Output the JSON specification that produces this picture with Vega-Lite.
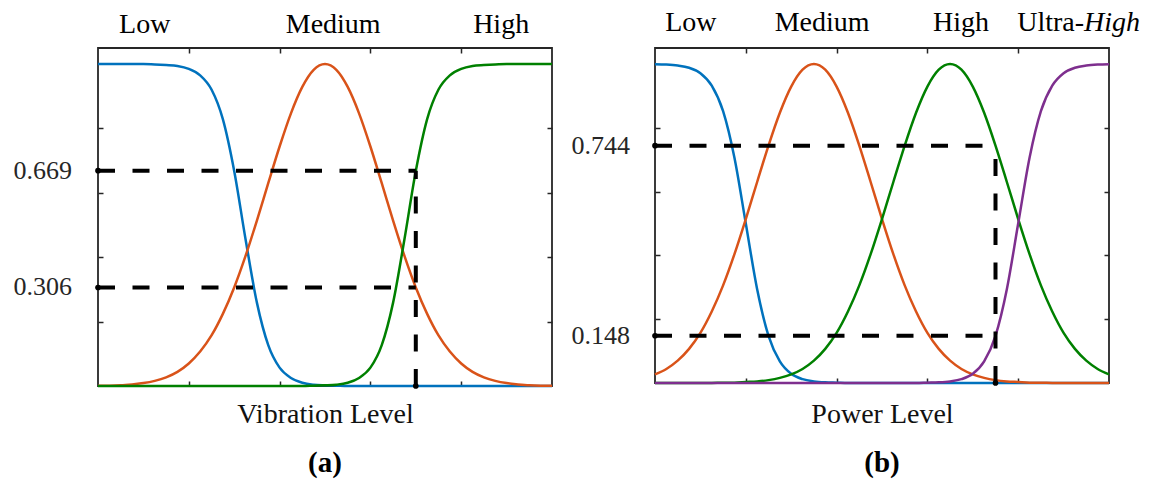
{
  "$schema": "https://vega.github.io/schema/vega-lite/v6.json",
  "background": "white",
  "padding": {"left": 12, "top": 8, "right": 0, "bottom": 0},
  "spacing": 12,
  "config": {"view": {"stroke": "#262626", "strokeWidth": 1.8}, "font": "Liberation Serif"},
  "datasets": {
    "a": [
      {"x":0,"Low":1,"Medium":0.001,"High":0},
      {"x":0.25,"Low":1,"Medium":0.001,"High":0},
      {"x":0.5,"Low":1,"Medium":0.002,"High":0},
      {"x":0.75,"Low":1,"Medium":0.005,"High":0},
      {"x":1,"Low":1,"Medium":0.009,"High":0},
      {"x":1.25,"Low":0.999,"Medium":0.016,"High":0},
      {"x":1.5,"Low":0.997,"Medium":0.027,"High":0},
      {"x":1.75,"Low":0.994,"Medium":0.044,"High":0},
      {"x":2,"Low":0.985,"Medium":0.070,"High":0},
      {"x":2.25,"Low":0.965,"Medium":0.107,"High":0},
      {"x":2.5,"Low":0.921,"Medium":0.157,"High":0},
      {"x":2.75,"Low":0.829,"Medium":0.224,"High":0},
      {"x":3,"Low":0.668,"Medium":0.306,"High":0},
      {"x":3.25,"Low":0.456,"Medium":0.404,"High":0},
      {"x":3.5,"Low":0.259,"Medium":0.514,"High":0},
      {"x":3.75,"Low":0.127,"Medium":0.630,"High":0},
      {"x":4,"Low":0.057,"Medium":0.744,"High":0},
      {"x":4.25,"Low":0.025,"Medium":0.847,"High":0},
      {"x":4.5,"Low":0.010,"Medium":0.929,"High":0},
      {"x":4.75,"Low":0.004,"Medium":0.982,"High":0.001},
      {"x":5,"Low":0.002,"Medium":1,"High":0.002},
      {"x":5.25,"Low":0.001,"Medium":0.982,"High":0.004},
      {"x":5.5,"Low":0,"Medium":0.929,"High":0.010},
      {"x":5.75,"Low":0,"Medium":0.847,"High":0.025},
      {"x":6,"Low":0,"Medium":0.744,"High":0.057},
      {"x":6.25,"Low":0,"Medium":0.630,"High":0.127},
      {"x":6.5,"Low":0,"Medium":0.514,"High":0.259},
      {"x":6.75,"Low":0,"Medium":0.404,"High":0.456},
      {"x":7,"Low":0,"Medium":0.306,"High":0.668},
      {"x":7.25,"Low":0,"Medium":0.224,"High":0.829},
      {"x":7.5,"Low":0,"Medium":0.157,"High":0.921},
      {"x":7.75,"Low":0,"Medium":0.107,"High":0.965},
      {"x":8,"Low":0,"Medium":0.070,"High":0.985},
      {"x":8.25,"Low":0,"Medium":0.044,"High":0.994},
      {"x":8.5,"Low":0,"Medium":0.027,"High":0.997},
      {"x":8.75,"Low":0,"Medium":0.016,"High":0.999},
      {"x":9,"Low":0,"Medium":0.009,"High":1},
      {"x":9.25,"Low":0,"Medium":0.005,"High":1},
      {"x":9.5,"Low":0,"Medium":0.002,"High":1},
      {"x":9.75,"Low":0,"Medium":0.001,"High":1},
      {"x":10,"Low":0,"Medium":0.001,"High":1}
    ],
    "b": [
      {"x":0,"Low":0.999,"Medium":0.027,"High":0,"UltraHigh":0},
      {"x":0.25,"Low":0.998,"Medium":0.044,"High":0,"UltraHigh":0},
      {"x":0.5,"Low":0.995,"Medium":0.070,"High":0,"UltraHigh":0},
      {"x":0.75,"Low":0.988,"Medium":0.107,"High":0,"UltraHigh":0},
      {"x":1,"Low":0.971,"Medium":0.157,"High":0,"UltraHigh":0},
      {"x":1.25,"Low":0.932,"Medium":0.224,"High":0,"UltraHigh":0},
      {"x":1.5,"Low":0.852,"Medium":0.306,"High":0.001,"UltraHigh":0},
      {"x":1.75,"Low":0.706,"Medium":0.404,"High":0.001,"UltraHigh":0},
      {"x":2,"Low":0.5,"Medium":0.514,"High":0.003,"UltraHigh":0},
      {"x":2.25,"Low":0.294,"Medium":0.630,"High":0.005,"UltraHigh":0},
      {"x":2.5,"Low":0.148,"Medium":0.744,"High":0.009,"UltraHigh":0},
      {"x":2.75,"Low":0.068,"Medium":0.847,"High":0.016,"UltraHigh":0},
      {"x":3,"Low":0.029,"Medium":0.929,"High":0.027,"UltraHigh":0},
      {"x":3.25,"Low":0.012,"Medium":0.982,"High":0.044,"UltraHigh":0},
      {"x":3.5,"Low":0.005,"Medium":1,"High":0.070,"UltraHigh":0},
      {"x":3.75,"Low":0.002,"Medium":0.982,"High":0.107,"UltraHigh":0},
      {"x":4,"Low":0.001,"Medium":0.929,"High":0.157,"UltraHigh":0},
      {"x":4.25,"Low":0,"Medium":0.847,"High":0.224,"UltraHigh":0},
      {"x":4.5,"Low":0,"Medium":0.744,"High":0.306,"UltraHigh":0},
      {"x":4.75,"Low":0,"Medium":0.630,"High":0.404,"UltraHigh":0},
      {"x":5,"Low":0,"Medium":0.514,"High":0.514,"UltraHigh":0},
      {"x":5.25,"Low":0,"Medium":0.404,"High":0.630,"UltraHigh":0},
      {"x":5.5,"Low":0,"Medium":0.306,"High":0.744,"UltraHigh":0},
      {"x":5.75,"Low":0,"Medium":0.224,"High":0.847,"UltraHigh":0},
      {"x":6,"Low":0,"Medium":0.157,"High":0.929,"UltraHigh":0.001},
      {"x":6.25,"Low":0,"Medium":0.107,"High":0.982,"UltraHigh":0.002},
      {"x":6.5,"Low":0,"Medium":0.070,"High":1,"UltraHigh":0.005},
      {"x":6.75,"Low":0,"Medium":0.044,"High":0.982,"UltraHigh":0.012},
      {"x":7,"Low":0,"Medium":0.027,"High":0.929,"UltraHigh":0.029},
      {"x":7.25,"Low":0,"Medium":0.016,"High":0.847,"UltraHigh":0.068},
      {"x":7.5,"Low":0,"Medium":0.009,"High":0.744,"UltraHigh":0.148},
      {"x":7.75,"Low":0,"Medium":0.005,"High":0.630,"UltraHigh":0.294},
      {"x":8,"Low":0,"Medium":0.003,"High":0.514,"UltraHigh":0.5},
      {"x":8.25,"Low":0,"Medium":0.001,"High":0.404,"UltraHigh":0.706},
      {"x":8.5,"Low":0,"Medium":0.001,"High":0.306,"UltraHigh":0.852},
      {"x":8.75,"Low":0,"Medium":0,"High":0.224,"UltraHigh":0.932},
      {"x":9,"Low":0,"Medium":0,"High":0.157,"UltraHigh":0.971},
      {"x":9.25,"Low":0,"Medium":0,"High":0.107,"UltraHigh":0.988},
      {"x":9.5,"Low":0,"Medium":0,"High":0.070,"UltraHigh":0.995},
      {"x":9.75,"Low":0,"Medium":0,"High":0.044,"UltraHigh":0.998},
      {"x":10,"Low":0,"Medium":0,"High":0.027,"UltraHigh":0.999}
    ]
  },
  "hconcat": [
    {
      "width": 454,
      "height": 338,
      "title": {"text": "(a)", "orient": "bottom", "font": "Liberation Serif", "fontSize": 29, "fontWeight": "bold", "color": "#000", "offset": 20},
      "resolve": {"axis": {"x": "independent", "y": "independent"}},
      "layer": [
        {
          "data": {"name": "a"},
          "transform": [{"fold": ["Low", "Medium", "High"], "as": ["set", "mu"]}],
          "mark": {"type": "line", "interpolate": "monotone", "strokeWidth": 2.5},
          "encoding": {
            "x": {"field": "x", "type": "quantitative", "scale": {"domain": [0, 10], "nice": false, "zero": false},
                  "axis": {"orient": "bottom", "values": [2, 4, 6, 8], "labels": false, "tickSize": -5, "tickWidth": 1.5, "tickColor": "#262626", "domain": false, "grid": false,
                           "title": "Vibration Level", "titleFont": "Liberation Serif", "titleFontSize": 28, "titleFontWeight": "normal", "titleColor": "#111", "titlePadding": 14}},
            "y": {"field": "mu", "type": "quantitative", "scale": {"domain": [0, 1.05], "nice": false},
                  "axis": {"orient": "left", "values": [0.2, 0.4, 0.6, 0.8], "labels": false, "tickSize": -5, "tickWidth": 1.5, "tickColor": "#262626", "domain": false, "grid": false, "title": null}},
            "color": {"field": "set", "type": "nominal", "scale": {"domain": ["Low", "Medium", "High", "UltraHigh"], "range": ["#0072BD", "#D95319", "#008000", "#7E2F8E"]}, "legend": null}
          }
        },
        {
          "data": {"values": [
            {"x": 0, "x2": 7, "y": 0.669, "y2": 0.669},
            {"x": 0, "x2": 7, "y": 0.306, "y2": 0.306},
            {"x": 7, "x2": 7, "y": 0, "y2": 0.669}
          ]},
          "mark": {"type": "rule", "strokeDash": [17, 17.5], "strokeWidth": 4, "color": "#000", "strokeCap": "butt"},
          "encoding": {
            "x": {"field": "x", "type": "quantitative", "axis": {"orient": "top", "values": [2, 4, 6, 8], "labels": false, "tickSize": -5, "tickWidth": 1.5, "tickColor": "#262626", "domain": false, "grid": false, "title": null}},
            "x2": {"field": "x2"},
            "y": {"field": "y", "type": "quantitative", "axis": {"orient": "right", "values": [0.2, 0.4, 0.6, 0.8], "labels": false, "tickSize": -5, "tickWidth": 1.5, "tickColor": "#262626", "domain": false, "grid": false, "title": null}},
            "y2": {"field": "y2"}
          }
        },
        {
          "data": {"values": [{"x": 0, "y": 0.669}, {"x": 0, "y": 0.306}, {"x": 7, "y": 0}]},
          "mark": {"type": "point", "filled": true, "size": 32, "color": "#000", "opacity": 1},
          "encoding": {
            "x": {"field": "x", "type": "quantitative", "axis": null},
            "y": {"field": "y", "type": "quantitative", "axis": null}
          }
        },
        {
          "data": {"values": [{"t": "0.669", "v": 0.669}, {"t": "0.306", "v": 0.306}]},
          "mark": {"type": "text", "font": "Liberation Serif", "fontSize": 26, "align": "right", "baseline": "middle", "dx": -26, "color": "#262626"},
          "encoding": {
            "x": {"datum": 0, "type": "quantitative", "axis": null},
            "y": {"field": "v", "type": "quantitative", "axis": null},
            "text": {"field": "t"}
          }
        },
        {
          "data": {"values": [{"t": "Low", "x": 1.03}, {"t": "Medium", "x": 5.18}, {"t": "High", "x": 8.88}]},
          "mark": {"type": "text", "font": "Liberation Serif", "fontSize": 28, "align": "center", "baseline": "alphabetic", "dy": -15, "color": "#000"},
          "encoding": {
            "x": {"field": "x", "type": "quantitative", "axis": null},
            "y": {"datum": 1.05, "type": "quantitative", "axis": null},
            "text": {"field": "t"}
          }
        }
      ]
    },
    {
      "width": 454,
      "height": 335,
      "title": {"text": "(b)", "orient": "bottom", "font": "Liberation Serif", "fontSize": 29, "fontWeight": "bold", "color": "#000", "offset": 20},
      "resolve": {"axis": {"x": "independent", "y": "independent"}},
      "layer": [
        {
          "data": {"name": "b"},
          "transform": [{"fold": ["Low", "Medium", "High", "UltraHigh"], "as": ["set", "mu"]}],
          "mark": {"type": "line", "interpolate": "monotone", "strokeWidth": 2.5},
          "encoding": {
            "x": {"field": "x", "type": "quantitative", "scale": {"domain": [0, 10], "nice": false, "zero": false},
                  "axis": {"orient": "bottom", "values": [2, 4, 6, 8], "labels": false, "tickSize": -5, "tickWidth": 1.5, "tickColor": "#262626", "domain": false, "grid": false,
                           "title": "Power Level", "titleFont": "Liberation Serif", "titleFontSize": 28, "titleFontWeight": "normal", "titleColor": "#111", "titlePadding": 17}},
            "y": {"field": "mu", "type": "quantitative", "scale": {"domain": [0, 1.05], "nice": false},
                  "axis": {"orient": "left", "values": [0.2, 0.4, 0.6, 0.8], "labels": false, "tickSize": -5, "tickWidth": 1.5, "tickColor": "#262626", "domain": false, "grid": false, "title": null}},
            "color": {"field": "set", "type": "nominal", "scale": {"domain": ["Low", "Medium", "High", "UltraHigh"], "range": ["#0072BD", "#D95319", "#008000", "#7E2F8E"]}, "legend": null}
          }
        },
        {
          "data": {"values": [
            {"x": 0, "x2": 7.5, "y": 0.744, "y2": 0.744},
            {"x": 0, "x2": 7.5, "y": 0.148, "y2": 0.148},
            {"x": 7.5, "x2": 7.5, "y": 0, "y2": 0.744}
          ]},
          "mark": {"type": "rule", "strokeDash": [17, 17.5], "strokeWidth": 4, "color": "#000", "strokeCap": "butt"},
          "encoding": {
            "x": {"field": "x", "type": "quantitative", "axis": {"orient": "top", "values": [2, 4, 6, 8], "labels": false, "tickSize": -5, "tickWidth": 1.5, "tickColor": "#262626", "domain": false, "grid": false, "title": null}},
            "x2": {"field": "x2"},
            "y": {"field": "y", "type": "quantitative", "axis": {"orient": "right", "values": [0.2, 0.4, 0.6, 0.8], "labels": false, "tickSize": -5, "tickWidth": 1.5, "tickColor": "#262626", "domain": false, "grid": false, "title": null}},
            "y2": {"field": "y2"}
          }
        },
        {
          "data": {"values": [{"x": 0, "y": 0.744}, {"x": 0, "y": 0.148}, {"x": 7.5, "y": 0}]},
          "mark": {"type": "point", "filled": true, "size": 32, "color": "#000", "opacity": 1},
          "encoding": {
            "x": {"field": "x", "type": "quantitative", "axis": null},
            "y": {"field": "y", "type": "quantitative", "axis": null}
          }
        },
        {
          "data": {"values": [{"t": "0.744", "v": 0.744}, {"t": "0.148", "v": 0.148}]},
          "mark": {"type": "text", "font": "Liberation Serif", "fontSize": 26, "align": "right", "baseline": "middle", "dx": -25, "color": "#262626"},
          "encoding": {
            "x": {"datum": 0, "type": "quantitative", "axis": null},
            "y": {"field": "v", "type": "quantitative", "axis": null},
            "text": {"field": "t"}
          }
        },
        {
          "data": {"values": [{"t": "Low", "x": 0.79}, {"t": "Medium", "x": 3.68}, {"t": "High", "x": 6.74}]},
          "mark": {"type": "text", "font": "Liberation Serif", "fontSize": 28, "align": "center", "baseline": "alphabetic", "dy": -17, "color": "#000"},
          "encoding": {
            "x": {"field": "x", "type": "quantitative", "axis": null},
            "y": {"datum": 1.05, "type": "quantitative", "axis": null},
            "text": {"field": "t"}
          }
        },
        {
          "data": {"values": [{"t": "Ultra-", "x": 9.45}]},
          "mark": {"type": "text", "font": "Liberation Serif", "fontSize": 28, "align": "right", "baseline": "alphabetic", "dy": -17, "color": "#000"},
          "encoding": {
            "x": {"field": "x", "type": "quantitative", "axis": null},
            "y": {"datum": 1.05, "type": "quantitative", "axis": null},
            "text": {"field": "t"}
          }
        },
        {
          "data": {"values": [{"t": "High", "x": 9.45}]},
          "mark": {"type": "text", "font": "Liberation Serif", "fontSize": 28, "fontStyle": "italic", "align": "left", "baseline": "alphabetic", "dy": -17, "color": "#000"},
          "encoding": {
            "x": {"field": "x", "type": "quantitative", "axis": null},
            "y": {"datum": 1.05, "type": "quantitative", "axis": null},
            "text": {"field": "t"}
          }
        }
      ]
    }
  ]
}
